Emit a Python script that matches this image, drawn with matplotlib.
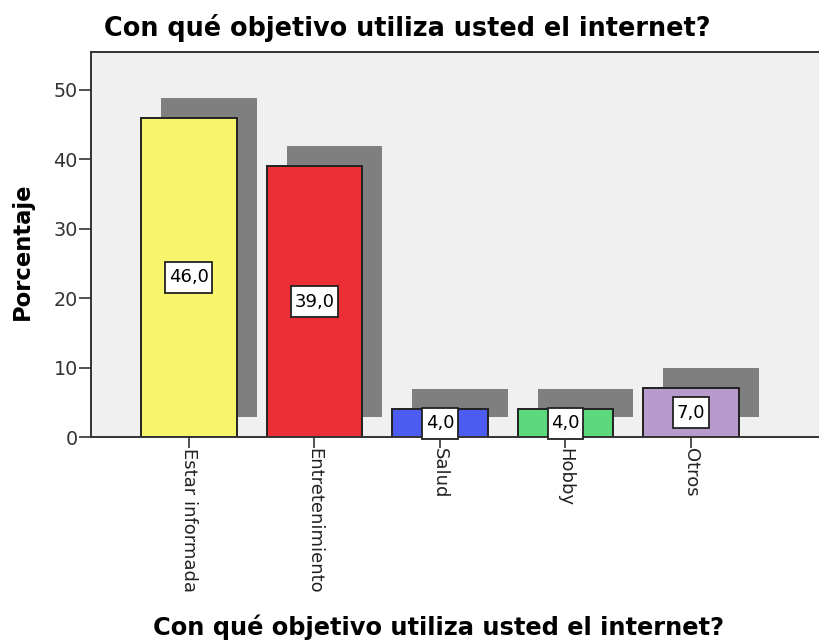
import matplotlib
matplotlib.use("Agg")
import matplotlib.pyplot as plt
from matplotlib.path import Path
import numpy as np

categories = ["Estar informada", "Entretenimiento", "Salud", "Hobby", "Otros"]
values = [46.0, 39.0, 4.0, 4.0, 7.0]
colors = ["#F8F46C", "#EC2F37", "#4C5CF0", "#5CD97C", "#B89BCC"]
yticks = [0, 10, 20, 30, 40, 50]
title = "Con qué objetivo utiliza usted el internet?"
ylabel = "Porcentaje"

plt.rcParams['font.family'] = ['DejaVu Sans']


def tallbox(x0, y0, width, height, mutation_size):
    px = 0.2 * mutation_size
    py = 0.36 * mutation_size
    x0, y0 = x0 - px, y0 - py
    x1, y1 = x0 + width + 2 * px, y0 + height + 2 * py
    return Path([(x0, y0), (x1, y0), (x1, y1), (x0, y1), (x0, y0)], closed=True)


fig = plt.figure(figsize=(8.19, 6.42), dpi=100)
ax = fig.add_axes([0.111, 0.3193, 0.889, 0.6])
ax.set_facecolor("#F0F0F0")

x = np.arange(len(categories))
width = 0.76
sx, sy = 0.16, 2.9
ax.bar(x + sx, values, width=width, bottom=sy, color="#7F7F7F", edgecolor="none", zorder=1)
ax.bar(x, values, width=width, color=colors, edgecolor="#222222", linewidth=1.4, zorder=2)

for xi, v in zip(x, values):
    ax.text(xi, v / 2, f"{v:.1f}".replace(".", ","), ha="center", va="center", fontsize=13,
            zorder=3, bbox=dict(boxstyle=tallbox, facecolor="white", edgecolor="#222222", linewidth=1.3))

ax.set_xlim(-0.78, 5.02)
ax.set_ylim(0, 55.5)
ax.set_yticks(yticks)
ax.set_yticklabels([str(t) for t in yticks], fontsize=13.8, color="#333333")
ax.set_xticks(x)
ax.set_xticklabels(categories, rotation=270, fontsize=13, va="top", ha="center", color="#222222")
ax.tick_params(axis="both", direction="out", width=1.2, color="#333333")
ax.tick_params(axis="y", length=9, pad=0.5)
ax.tick_params(axis="x", length=8, pad=0)

for s in ["top", "left", "bottom"]:
    ax.spines[s].set_color("#333333")
    ax.spines[s].set_linewidth(1.4)
ax.spines["right"].set_visible(False)

fig.text(0.0275, 0.609, ylabel, fontsize=16.3, fontweight="bold", rotation=90, ha="center", va="center")
fig.text(0.127, 0.944, title, fontsize=18.4, fontweight="bold", ha="left", va="baseline")
fig.text(0.536, 0.011, title, fontsize=17.4, fontweight="bold", ha="center", va="baseline")

fig.savefig("out.png", dpi=100)
